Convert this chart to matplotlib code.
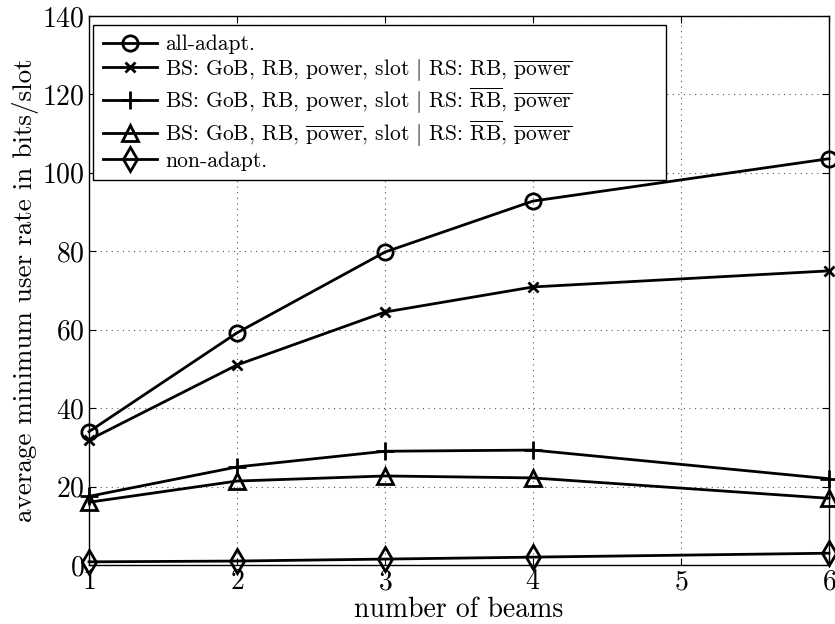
import matplotlib
matplotlib.use('Agg')
import matplotlib.pyplot as plt

# font setup: Computer Modern look
plt.rcParams['font.family'] = 'cmr10'
plt.rcParams['mathtext.fontset'] = 'cm'
plt.rcParams['axes.formatter.use_mathtext'] = True

# Data
beams = [1, 2, 3, 4, 6]
all_adapt = [34.0, 59.2, 79.8, 92.8, 103.6]
bs_all_rs_rb = [31.9, 51.0, 64.5, 70.9, 75.0]
bs_all_rs_none = [17.5, 25.0, 29.0, 29.3, 22.0]
bs_nopower_rs_none = [16.0, 21.4, 22.7, 22.2, 17.0]
non_adapt = [0.8, 1.0, 1.5, 2.0, 3.0]

labels = [
    'all-adapt.',
    r'BS: GoB, RB, power, slot $|$ RS: RB, $\overline{\mathrm{power}}$',
    r'BS: GoB, RB, power, slot $|$ RS: $\overline{\mathrm{RB}}$, $\overline{\mathrm{power}}$',
    r'BS: GoB, RB, $\overline{\mathrm{power}}$, slot $|$ RS: $\overline{\mathrm{RB}}$, $\overline{\mathrm{power}}$',
    'non-adapt.',
]
series = [all_adapt, bs_all_rs_rb, bs_all_rs_none, bs_nopower_rs_none, non_adapt]
markers = ['o', 'x', '+', '^', 'd']
msizes = [11, 7, 13, 11, 12]

fig = plt.figure(figsize=(8.35, 6.24), dpi=100)
ax = fig.add_axes([0.1066, 0.0946, 0.8862, 0.8798])

for y, lab, m, ms in zip(series, labels, markers, msizes):
    ax.plot(beams, y, color='black', linewidth=2.0, marker=m, markersize=ms,
            markerfacecolor='none', markeredgecolor='black', markeredgewidth=2.0,
            label=lab, clip_on=False, zorder=3)

ax.set_xlim(1, 6)
ax.set_ylim(0, 140)
ax.set_xticks([1, 2, 3, 4, 5, 6])
ax.set_yticks(range(0, 141, 20))
ax.tick_params(direction='in', top=True, right=True, labelsize=20, length=5, pad=3)
ax.grid(True, linestyle=(0, (1, 4)), color='#555555', linewidth=0.8)
for s in ax.spines.values():
    s.set_linewidth(1.0)

ax.set_xlabel('number of beams', fontsize=20, labelpad=1)
ax.set_ylabel('average minimum user rate in bits/slot', fontsize=19.5, labelpad=2)

# legend box is wider than its text in the reference, so expand it to a fixed width
leg = ax.legend(loc='upper left', bbox_to_anchor=(0.0054, 0.0, 0.775, 0.9836),
                mode='expand', borderaxespad=0,
                fontsize=15.5, fancybox=False, framealpha=1, edgecolor='black',
                handlelength=2.5, handletextpad=0.4, labelspacing=0.12, borderpad=0.45)
leg.get_frame().set_linewidth(1.0)

fig.savefig('out.png', dpi=100)
